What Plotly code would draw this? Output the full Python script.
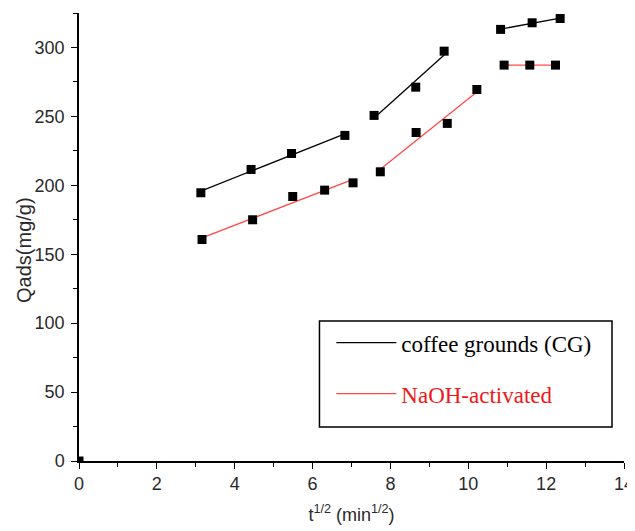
import numpy as np
import plotly.graph_objects as go

# ---- data ----
cg_x = [0.0, 3.13, 4.42, 5.46, 6.83, 7.58, 8.65, 9.38, 10.83, 11.64, 12.36]
cg_y = [0.0, 194.6, 211.5, 223.1, 236.2, 250.7, 271.2, 297.3, 313.1, 317.9, 321.0]
cg_segments = [[1, 2, 3, 4], [5, 6, 7], [8, 9, 10]]  # indices of points in each linear stage

na_x = [3.16, 4.46, 5.49, 6.31, 7.04, 7.74, 8.66, 9.46, 10.22, 10.92, 11.58, 12.24]
na_y = [160.7, 175.0, 191.9, 196.5, 201.8, 209.8, 238.3, 244.9, 269.5, 287.2, 287.2, 287.2]
na_segments = [[0, 1, 2, 3, 4], [5, 6, 7, 8], [9, 10, 11]]

x_ticks = [0, 2, 4, 6, 8, 10, 12, 14]
y_ticks = [0, 50, 100, 150, 200, 250, 300]


def fit_lines(xs, ys, segments):
    lx, ly = [], []
    for seg in segments:
        sx = np.array([xs[i] for i in seg])
        sy = np.array([ys[i] for i in seg])
        k, b = np.polyfit(sx, sy, 1)
        for xv in (sx.min(), sx.max()):
            lx.append(float(xv))
            ly.append(float(k * xv + b))
        lx.append(None)
        ly.append(None)
    return lx, ly


cg_lx, cg_ly = fit_lines(cg_x, cg_y, cg_segments)
na_lx, na_ly = fit_lines(na_x, na_y, na_segments)

RED = "#ff4a4a"
TXT = "#2a2a2a"

fig = go.Figure()
fig.add_trace(go.Scatter(x=cg_lx, y=cg_ly, mode="lines", name="coffee grounds (CG)",
                         line=dict(color="black", width=1.3), legendgroup="a",
                         connectgaps=False))
fig.add_trace(go.Scatter(x=na_lx, y=na_ly, mode="lines",
                         name='<span style="color:#f01818">NaOH-activated</span>',
                         line=dict(color=RED, width=1.3), legendgroup="b",
                         connectgaps=False))
fig.add_trace(go.Scatter(x=cg_x, y=cg_y, mode="markers", showlegend=False,
                         marker=dict(symbol="square", size=9, color="black"),
                         cliponaxis=True))
fig.add_trace(go.Scatter(x=na_x, y=na_y, mode="markers", showlegend=False,
                         marker=dict(symbol="square", size=9, color="black"),
                         cliponaxis=True))

axis_common = dict(showline=True, linecolor="black", linewidth=1.5, ticks="outside",
                   ticklen=6, tickwidth=1.3, tickcolor="black", showgrid=False,
                   zeroline=False, mirror=False, automargin=False,
                   ticklabeloverflow="allow",
                   tickfont=dict(family="Liberation Sans, Arial", size=18, color=TXT))

# the page body adds an 8px margin, so the figure is sized to the remaining window
fig.update_layout(
    width=627, height=523,
    margin=dict(l=71, r=11, t=5, b=70, autoexpand=False),
    paper_bgcolor="white", plot_bgcolor="white",
    xaxis=dict(range=[0, 14], tickvals=x_ticks, ticktext=[str(v) for v in x_ticks],
               minor=dict(dtick=1, tick0=0, ticks="outside", ticklen=4, tickcolor="black", tickwidth=1.2),
               title=dict(text="t<sup>1/2</sup> (min<sup>1/2</sup>)",
                          font=dict(family="Liberation Sans, Arial", size=18, color=TXT)),
               **axis_common),
    yaxis=dict(range=[0, 325], tickvals=y_ticks, ticktext=[str(v) for v in y_ticks],
               minor=dict(dtick=25, tick0=0, ticks="outside", ticklen=4, tickcolor="black", tickwidth=1.2),
               ticklabelstandoff=3,
               **axis_common),
    annotations=[dict(text="Qads(mg/g)", xref="paper", yref="paper", x=-0.101, y=0.471,
                      xanchor="center", yanchor="middle", textangle=-90, showarrow=False,
                      font=dict(family="Liberation Sans, Arial", size=20, color=TXT))],
    legend=dict(x=0.463, y=0.312, xanchor="left", yanchor="top",
                bgcolor="rgba(0,0,0,0)", borderwidth=0,
                font=dict(family="Liberation Serif, Times New Roman", size=23, color="black"),
                tracegroupgap=18, itemwidth=60),
    shapes=[dict(type="rect", xref="paper", yref="paper",
                 x0=0.4412, x1=0.978, y0=0.0759, y1=0.3125,
                 line=dict(color="black", width=1.5), fillcolor="rgba(0,0,0,0)")],
)

fig.write_html("out.html", post_script="document.body.style.overflow='hidden';")
